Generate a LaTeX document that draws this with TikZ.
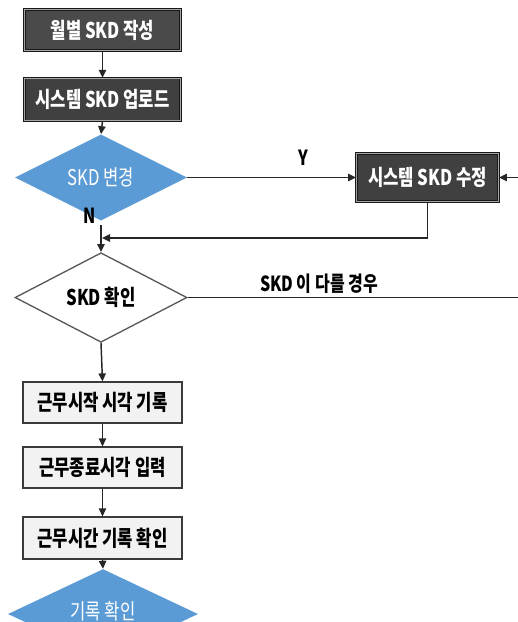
\documentclass[tikz,border=0pt]{standalone}
\usepackage{fontspec}
\setmainfont{Noto Sans CJK KR}
\usetikzlibrary{shapes.geometric,arrows.meta}
\newcommand{\vstretch}[1]{\scalebox{1}[1.3]{#1}}
\definecolor{darkfill}{HTML}{404040}
\definecolor{darkfillA}{HTML}{4A4A4A}
\definecolor{bluefill}{HTML}{5B9BD5}
\definecolor{lightfill}{HTML}{F2F2F2}
\definecolor{edge}{HTML}{3A3A3A}
\tikzset{
  darkbox/.style={rectangle, fill=darkfill, draw=black!90, line width=0.6pt,
    double=gray!70, double distance=0.7pt, text=white,
    font=\fontsize{12.5pt}{14pt}\selectfont\bfseries, inner sep=0pt},
  lightbox/.style={rectangle, fill=lightfill, draw=edge, line width=0.9pt, text=black,
    font=\fontsize{12.5pt}{14pt}\selectfont\bfseries, inner sep=0pt,
    minimum width=119.25pt},
  bluedia/.style={diamond, fill=bluefill, draw=none, text=white, inner sep=0pt,
    font=\fontsize{12.5pt}{14pt}\selectfont},
  whitedia/.style={diamond, fill=white, draw=black!65, line width=1pt, text=black, inner sep=0pt,
    font=\fontsize{12.5pt}{14pt}\selectfont\bfseries},
  conn/.style={draw=black!85, line width=1.1pt},
  arr/.style={conn, -{Triangle[width=5.5pt,length=6pt]}},
  lbl/.style={font=\fontsize{12pt}{14pt}\selectfont\bfseries, text=black, inner sep=0pt}
}
\begin{document}
\begin{tikzpicture}[x=0.75pt,y=-0.75pt]
\useasboundingbox (0,0) rectangle (518,622);
% nodes
\node[darkbox, fill=darkfillA, minimum width=117pt, minimum height=31pt] (b1) at (102.5,30) {\vstretch{월별 SKD 작성}};
\node[darkbox, minimum width=117pt, minimum height=32pt] (b2) at (102.5,99.5) {\vstretch{시스템 SKD 업로드}};
\node[bluedia, minimum width=129pt, minimum height=38.25pt] (d1) at (101,177.5) {\vstretch{SKD 변경}};
\node[darkbox, minimum width=106.5pt, minimum height=36pt] (b3) at (427.5,177.5) {\vstretch{시스템 SKD 수정}};
\node[whitedia, minimum width=129pt, minimum height=38.25pt] (d2) at (101,297.5) {\vstretch{SKD 확인}};
\node[lightbox, minimum height=30.75pt] (b4) at (102.5,402.5) {\vstretch{근무시작 시각 기록}};
\node[lightbox, minimum height=30.75pt] (b5) at (102.5,467.5) {\vstretch{근무종료시각 입력}};
\node[lightbox, minimum height=31.5pt] (b6) at (102.5,538) {\vstretch{근무시간 기록 확인}};
\node[bluedia, minimum width=142.5pt, minimum height=42pt] (d3) at (103,614) {\raisebox{5pt}{\vstretch{기록 확인}}};
% labels
\node[lbl] (ly) at (303,158) {\vstretch{Y}};
\node[lbl] (ln) at (90,216) {\vstretch{N}};
\node[lbl] (ld) at (319,284) {\vstretch{SKD 이 다를 경우}};
% coordinates
\coordinate (merge) at (102,238);
\coordinate (rin) at (518,177.5);
\coordinate (rout) at (518,297.5);
% connectors
\draw[arr] (b1.south) -- (b2.north);
\draw[arr] (b2.south) -- (d1.north);
\draw[arr] (d1.east) -- (b3.west);
\draw[arr] (rin) -- (b3.east);
\draw[arr] (b3.south) |- (merge);
\draw[arr, shorten <=3pt] (d1.south) -- (d2.north);
\draw[conn] (d2.east) -- (rout);
\draw[arr] (d2.south) -- (b4.north);
\draw[arr] (b4.south) -- (b5.north);
\draw[arr] (b5.south) -- (b6.north);
\draw[arr] (b6.south) -- (d3.north);
\end{tikzpicture}
\end{document}
